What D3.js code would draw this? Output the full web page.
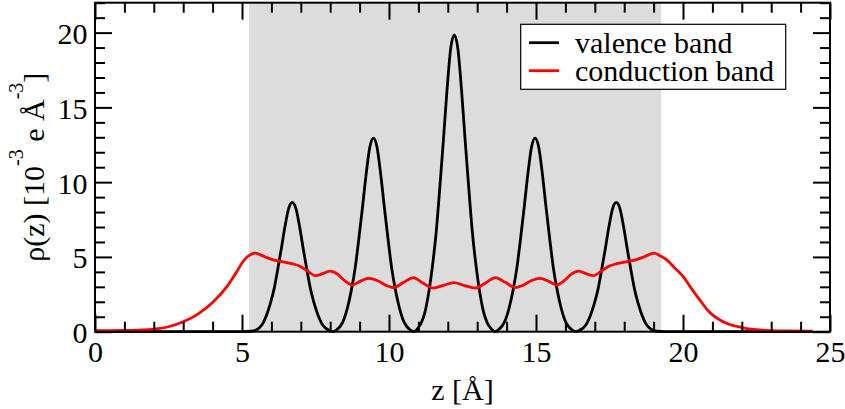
<!DOCTYPE html>
<html>
<head>
<meta charset="utf-8">
<script src="https://cdn.jsdelivr.net/npm/d3@7"></script>
<style>
  body { margin: 0; background: #fff; }
  svg { display: block; }
  text { font-family: "Liberation Serif", "Times New Roman", serif; fill: #000; }
</style>
</head>
<body>
<svg id="chart" width="845" height="409"></svg>
<script>
// Planar-averaged charge density of the valence and conduction band edges
const zValence = [0, 5.0, 5.33, 5.46, 5.59, 5.71, 5.83, 5.96, 6.09, 6.21, 6.34, 6.46, 6.59, 6.71,
  6.83, 6.96, 7.08, 7.21, 7.33, 7.46, 7.59, 7.71, 7.83, 7.96, 8.09,
  8.22, 8.35, 8.47, 8.59, 8.72, 8.85, 8.97, 9.10, 9.22, 9.35, 9.47,
  9.59, 9.72, 9.84, 9.97, 10.09, 10.22, 10.35, 10.47, 10.59, 10.72, 10.85,
  10.97, 11.10, 11.22, 11.34, 11.47, 11.60, 11.72, 11.85, 11.97, 12.10, 12.22,
  12.34, 12.47, 12.59, 12.72, 12.84, 12.97, 13.10, 13.22, 13.34, 13.47, 13.60,
  13.72, 13.85, 13.97, 14.09, 14.22, 14.35, 14.47, 14.60, 14.72, 14.85, 14.97,
  15.09, 15.22, 15.34, 15.47, 15.59, 15.72, 15.85, 15.97, 16.09, 16.22, 16.35,
  16.48, 16.61, 16.73, 16.85, 16.98, 17.11, 17.23, 17.36, 17.48, 17.61, 17.73,
  17.85, 17.98, 18.10, 18.23, 18.35, 18.48, 18.61, 18.73, 18.85, 18.98, 19.11, 19.4, 24.4];
const rhoValence = [0, 0, 0.03, 0.09, 0.26, 0.56, 1.08, 1.86, 2.85, 4.11, 5.58, 7.01, 8.26, 8.65,
  8.26, 7.01, 5.58, 4.11, 2.85, 1.86, 1.08, 0.56, 0.26, 0.09, 0,
  0.13, 0.39, 0.84, 1.62, 2.78, 4.27, 6.15, 8.35, 10.49, 12.37, 12.95,
  12.37, 10.49, 8.35, 6.15, 4.27, 2.78, 1.62, 0.84, 0.39, 0.13, 0,
  0.20, 0.60, 1.29, 2.48, 4.27, 6.55, 9.43, 12.80, 16.08, 18.96, 19.85,
  18.96, 16.08, 12.80, 9.43, 6.55, 4.27, 2.48, 1.29, 0.60, 0.20, 0,
  0.13, 0.39, 0.84, 1.62, 2.78, 4.27, 6.15, 8.35, 10.49, 12.37, 12.95,
  12.37, 10.49, 8.35, 6.15, 4.27, 2.78, 1.62, 0.84, 0.39, 0.13, 0,
  0.09, 0.26, 0.56, 1.08, 1.86, 2.85, 4.11, 5.58, 7.01, 8.26, 8.65,
  8.26, 7.01, 5.58, 4.11, 2.85, 1.86, 1.08, 0.56, 0.26, 0.09, 0.03, 0, 0];

const zConduction = [0, 0.5, 1.0, 1.5, 2.0, 2.5, 3.0, 3.5, 4.0, 4.5,
  4.8, 5.1, 5.25, 5.44, 5.65, 5.85, 6.1, 6.4, 6.7, 6.97,
  7.2, 7.5, 7.75, 7.99, 8.25, 8.5, 8.75, 9.0, 9.3, 9.6,
  9.9, 10.15, 10.5, 10.82, 11.15, 11.5, 11.85, 12.2, 12.55, 12.93,
  13.28, 13.62, 13.95, 14.3, 14.55, 14.85, 15.14, 15.45, 15.7, 15.95,
  16.2, 16.45, 16.7, 16.95, 17.25, 17.48, 17.75, 18.05, 18.35, 18.6,
  18.8, 19.0, 19.2, 19.45, 19.7, 20.0, 20.3, 20.6, 20.9, 21.2,
  21.5, 22.0, 22.5, 23.0, 23.5, 24.4];
const rhoConduction = [0.07, 0.07, 0.08, 0.11, 0.17, 0.33, 0.66, 1.18, 1.95, 3.05,
  3.95, 4.85, 5.1, 5.25, 5.12, 4.95, 4.78, 4.67, 4.55, 4.38,
  4.1, 3.75, 3.88, 4.05, 3.85, 3.4, 3.12, 3.35, 3.56, 3.42,
  3.1, 2.95, 3.3, 3.62, 3.25, 2.92, 3.1, 3.28, 3.1, 2.92,
  3.25, 3.62, 3.3, 2.95, 3.1, 3.42, 3.56, 3.35, 3.12, 3.4,
  3.85, 4.05, 3.88, 3.75, 4.1, 4.38, 4.55, 4.67, 4.78, 4.95,
  5.12, 5.25, 5.1, 4.8, 4.3, 3.7, 2.85, 2.05, 1.3, 0.85,
  0.55, 0.28, 0.13, 0.07, 0.05, 0.04];

// slab region (shaded)
const slabRange = [5.24, 19.26];

const seriesNames = ["valence band", "conduction band"];
const seriesColors = ["#000000", "#ff0000"];

const xMajorTicks = [0, 5, 10, 15, 20, 25];
const yMajorTicks = [0, 5, 10, 15, 20];
const xDomain = [0, 25];
const yDomain = [0, 22];

const svg = d3.select("#chart");

const x = d3.scaleLinear().domain(xDomain).range([95, 830]);
const y = d3.scaleLinear().domain(yDomain).range([331.7, 2.7]);

const xMinorTicks = d3.range(xDomain[0], xDomain[1] + 1, 1).filter(v => !xMajorTicks.includes(v));
const yMinorTicks = d3.range(yDomain[0], yDomain[1] + 1, 1).filter(v => !yMajorTicks.includes(v));

// shaded slab
svg.append("rect")
  .attr("x", x(slabRange[0]))
  .attr("y", y(yDomain[1]))
  .attr("width", x(slabRange[1]) - x(slabRange[0]))
  .attr("height", y(yDomain[0]) - y(yDomain[1]))
  .attr("fill", "#dcdcdc");

// curves
const line = d3.line()
  .x(d => x(d[0]))
  .y(d => y(d[1]))
  .curve(d3.curveMonotoneX);

const series = [d3.zip(zValence, rhoValence), d3.zip(zConduction, rhoConduction)];
series.forEach((pts, i) => {
  svg.append("path")
    .datum(pts)
    .attr("d", line)
    .attr("fill", "none")
    .attr("stroke", seriesColors[i])
    .attr("stroke-width", 2.8)
    .attr("stroke-linejoin", "round");
});

// axes with inward ticks on all four sides
function styleTicks(g, width) {
  g.select(".domain").remove();
  g.selectAll(".tick line").attr("stroke", "#000").attr("stroke-width", width);
}
const majorLen = 17, minorLen = 10;

const gBottom = svg.append("g").attr("transform", `translate(0,${y(0)})`);
gBottom.append("g").call(d3.axisBottom(x).tickValues(xMinorTicks).tickSize(-minorLen).tickFormat(""))
  .call(g => styleTicks(g, 2));
gBottom.append("g").call(d3.axisBottom(x).tickValues(xMajorTicks).tickSize(-majorLen).tickFormat(d3.format("d")))
  .call(g => styleTicks(g, 2))
  .call(g => g.selectAll("text").attr("y", 30).attr("dy", null)
    .attr("font-size", 30).attr("font-family", "Liberation Serif"));

const gTop = svg.append("g").attr("transform", `translate(0,${y(yDomain[1])})`);
gTop.append("g").call(d3.axisTop(x).tickValues(xMinorTicks).tickSize(-minorLen).tickFormat("")).call(g => styleTicks(g, 2));
gTop.append("g").call(d3.axisTop(x).tickValues(xMajorTicks).tickSize(-majorLen).tickFormat("")).call(g => styleTicks(g, 2));

const gLeft = svg.append("g").attr("transform", `translate(${x(0)},0)`);
gLeft.append("g").call(d3.axisLeft(y).tickValues(yMinorTicks).tickSize(-minorLen).tickFormat("")).call(g => styleTicks(g, 2));
gLeft.append("g").call(d3.axisLeft(y).tickValues(yMajorTicks).tickSize(-majorLen).tickFormat(d3.format("d")))
  .call(g => styleTicks(g, 2))
  .call(g => g.selectAll("text").attr("x", -7.5).attr("y", 11).attr("dy", null)
    .attr("font-size", 30).attr("font-family", "Liberation Serif"));

const gRight = svg.append("g").attr("transform", `translate(${x(xDomain[1])},0)`);
gRight.append("g").call(d3.axisRight(y).tickValues(yMinorTicks).tickSize(-minorLen).tickFormat("")).call(g => styleTicks(g, 2));
gRight.append("g").call(d3.axisRight(y).tickValues(yMajorTicks).tickSize(-majorLen).tickFormat("")).call(g => styleTicks(g, 2));

// frame
svg.append("rect")
  .attr("x", x(xDomain[0]))
  .attr("y", y(yDomain[1]))
  .attr("width", x(xDomain[1]) - x(xDomain[0]))
  .attr("height", y(yDomain[0]) - y(yDomain[1]))
  .attr("fill", "none")
  .attr("stroke", "#000")
  .attr("stroke-width", 2);

// axis titles
svg.append("text")
  .attr("x", (x(xDomain[0]) + x(xDomain[1])) / 2)
  .attr("y", 400)
  .attr("text-anchor", "middle")
  .attr("font-size", 30)
  .text("z [Å]");

const yTitle = svg.append("text")
  .attr("transform", `translate(44,${(y(yDomain[0]) + y(yDomain[1])) / 2}) rotate(-90)`)
  .attr("text-anchor", "middle")
  .attr("font-size", 30);
yTitle.append("tspan").text("ρ(z) [10");
yTitle.append("tspan").attr("font-size", 20).attr("dy", -21).text("-3");
yTitle.append("tspan").attr("font-size", 30).attr("dy", 21).text(" e Å");
yTitle.append("tspan").attr("font-size", 20).attr("dy", -21).text("-3");
yTitle.append("tspan").attr("font-size", 30).attr("dy", 21).text("]");

// legend
const legend = svg.append("g");
legend.append("rect")
  .attr("x", 520.7).attr("y", 24.3)
  .attr("width", 265).attr("height", 65)
  .attr("fill", "#fff").attr("stroke", "#000").attr("stroke-width", 1.2);
seriesNames.forEach((name, i) => {
  const cy = 42.7 + i * 28;
  legend.append("line")
    .attr("x1", 529).attr("x2", 559)
    .attr("y1", cy).attr("y2", cy)
    .attr("stroke", seriesColors[i]).attr("stroke-width", 2.8);
  legend.append("text")
    .attr("x", 575).attr("y", cy + 10.3)
    .attr("font-size", 30)
    .text(name);
});
</script>
</body>
</html>
